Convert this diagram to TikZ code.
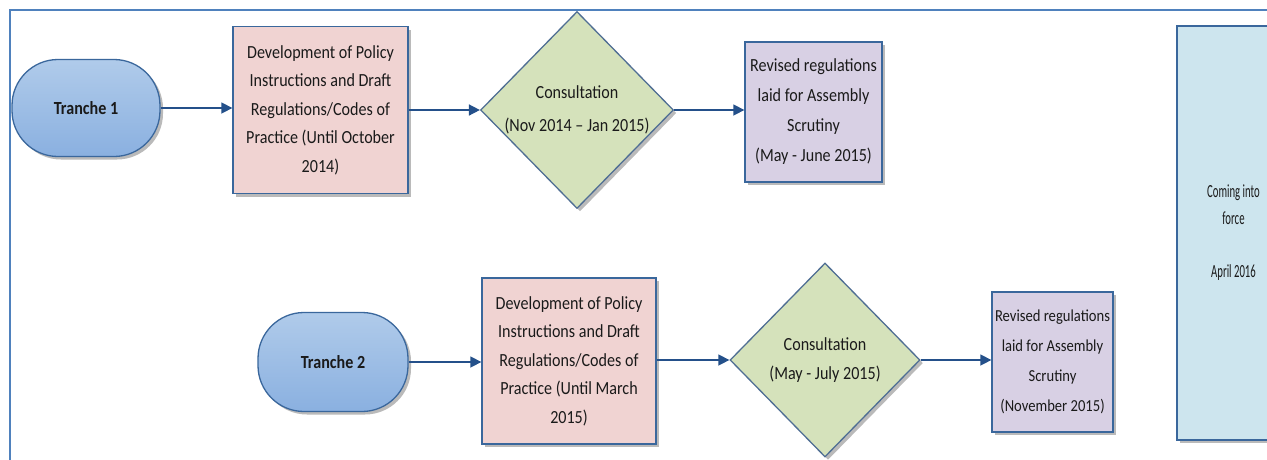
\documentclass[tikz,border=0pt]{standalone}
\usepackage{fontspec}
\setmainfont{Carlito}[FakeStretch=0.87]
\newfontfamily\narrowfont{Carlito}[FakeStretch=0.58]
\usetikzlibrary{shapes.geometric,shadows,arrows.meta}
\definecolor{frameblue}{HTML}{4F81BD}
\definecolor{edgeblue}{HTML}{3A679C}
\definecolor{arrowblue}{HTML}{24508A}
\definecolor{termtop}{HTML}{B0CBEA}
\definecolor{termbot}{HTML}{8AB0E0}
\definecolor{pinkfill}{HTML}{F0D3D2}
\definecolor{greenfill}{HTML}{D5E2BB}
\definecolor{purplefill}{HTML}{D8D0E4}
\definecolor{cyanfill}{HTML}{CDE5EE}
\definecolor{txt}{HTML}{1A1A1A}
\tikzset{
  base/.style={draw=edgeblue, line width=1.3pt, text=txt, align=center, inner sep=0pt,
    font={\fontsize{18.5}{28.5}\selectfont},
    drop shadow={shadow xshift=3pt, shadow yshift=-3pt, fill=black!45, opacity=0.6}},
  term/.style={base, rectangle, rounded corners=46pt, top color=termtop, bottom color=termbot,
    font={\fontsize{18.5}{28.5}\selectfont\bfseries}},
  devbox/.style={base, rectangle, fill=pinkfill},
  consult/.style={base, diamond, fill=greenfill, draw=edgeblue!70!gray},
  revbox/.style={base, rectangle, fill=purplefill, font={\fontsize{18.5}{30}\selectfont}},
  forcebox/.style={base, rectangle, fill=cyanfill, font={\narrowfont\fontsize{18.5}{27}\selectfont}},
  arr/.style={draw=arrowblue, line width=1.5pt, -{Triangle[length=11pt,width=11pt]}},
  frameline/.style={draw=frameblue, line width=2pt}
}
\begin{document}
\begin{tikzpicture}[x=1pt,y=-1pt]
\useasboundingbox (0,0) rectangle (1267,459);
\fill[white] (0,0) rectangle (1267,459);
\draw[frameline] (1268,10) -- (10,10) -- (10,460);

\node[term, minimum width=148pt, minimum height=97pt] (t1) at (86,108) {Tranche 1};
\node[devbox, minimum width=175pt, minimum height=167pt] (b1) at (320.5,110)
  {Development of Policy\\Instructions and Draft\\Regulations/Codes of\\Practice (Until October\\2014)};
\node[consult, minimum width=188pt, minimum height=197pt] (d1) at (577,110)
  {Consultation\\[4pt](Nov 2014 – Jan 2015)};
\node[revbox, minimum width=137pt, minimum height=140pt] (p1) at (813.5,112)
  {Revised regulations\\laid for Assembly\\Scrutiny\\(May - June 2015)};

\node[term, minimum width=150pt, minimum height=99pt] (t2) at (333,362) {Tranche 2};
\node[devbox, minimum width=174pt, minimum height=166pt] (b2) at (569,361)
  {Development of Policy\\Instructions and Draft\\Regulations/Codes of\\Practice (Until March\\2015)};
\node[consult, minimum width=190pt, minimum height=194pt] (d2) at (825,360)
  {Consultation\\(May - July 2015)};
\node[revbox, minimum width=121pt, minimum height=140pt, font={\fontsize{16.8}{30}\selectfont}] (p2) at (1052.5,362)
  {Revised regulations\\laid for Assembly\\Scrutiny\\(November 2015)};

\node[forcebox, minimum width=113pt, minimum height=414pt] (f) at (1233.5,233)
  {Coming into\\force\\[26pt]April 2016};

\draw[arr] (t1.east) -- (t1.east -| b1.west);
\draw[arr] (b1.east |- d1.west) -- (d1.west);
\draw[arr] (d1.east) -- (d1.east -| p1.west);
\draw[arr] (t2.east) -- (t2.east -| b2.west);
\draw[arr] (b2.east |- d2.west) -- (d2.west);
\draw[arr] (d2.east) -- (d2.east -| p2.west);
\end{tikzpicture}
\end{document}
